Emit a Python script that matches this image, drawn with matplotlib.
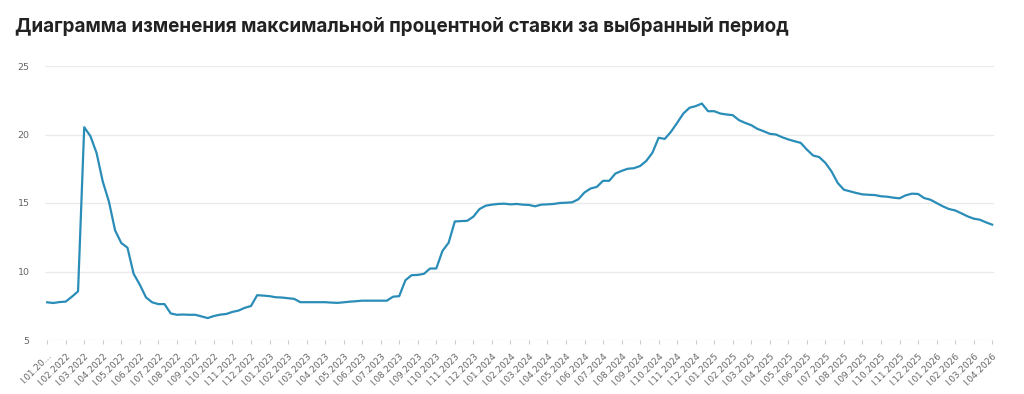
import numpy as np
import matplotlib
matplotlib.use("Agg")
import matplotlib.pyplot as plt

# ---- data: max deposit rate, one value per ten-day period (I/II/III) ----
RATES = [
    7.75, 7.70, 7.77, 7.80, 8.16, 8.55, 20.53, 19.88, 18.65, 16.57,
    15.10, 13.00, 12.08, 11.74, 9.83, 9.04, 8.11, 7.75, 7.62, 7.62,
    6.94, 6.84, 6.86, 6.84, 6.84, 6.72, 6.60, 6.75, 6.85, 6.90,
    7.05, 7.15, 7.35, 7.48, 8.27, 8.24, 8.20, 8.12, 8.10, 8.05,
    8.00, 7.76, 7.76, 7.76, 7.76, 7.76, 7.73, 7.71, 7.75, 7.80,
    7.83, 7.87, 7.87, 7.87, 7.87, 7.87, 8.16, 8.20, 9.36, 9.73,
    9.75, 9.83, 10.22, 10.22, 11.50, 12.10, 13.65, 13.68, 13.70, 14.00,
    14.56, 14.80, 14.88, 14.93, 14.95, 14.90, 14.93, 14.88, 14.86, 14.76,
    14.88, 14.90, 14.93, 15.00, 15.02, 15.05, 15.27, 15.77, 16.06, 16.18,
    16.62, 16.62, 17.15, 17.34, 17.50, 17.54, 17.70, 18.07, 18.67, 19.76,
    19.68, 20.20, 20.85, 21.53, 21.95, 22.07, 22.26, 21.70, 21.70, 21.53,
    21.46, 21.41, 21.05, 20.85, 20.68, 20.41, 20.24, 20.05, 20.00, 19.80,
    19.64, 19.51, 19.39, 18.90, 18.47, 18.35, 17.93, 17.30, 16.46, 15.97,
    15.85, 15.73, 15.63, 15.60, 15.58, 15.49, 15.46, 15.39, 15.34, 15.56,
    15.68, 15.66, 15.36, 15.24, 15.00, 14.76, 14.56, 14.46, 14.25, 14.03,
    13.86, 13.78, 13.59, 13.42,
]

# first decade of every month, Jan 2022 .. Apr 2026
YEARS = [2022, 2023, 2024, 2025, 2026]
TICK_LABELS = [f"I.{m:02d}.{y}" for y in YEARS for m in range(1, 13)
               if not (y == 2026 and m > 4)]
TICK_LABELS[0] = "I.01.20…"

Y_TICKS = [5, 10, 15, 20, 25]

TITLE = "Диаграмма изменения максимальной процентной ставки за выбранный период"

LINE_COLOR = "#2a8db8"
GRID_COLOR = "#ebebeb"
TEXT_GRAY = "#666666"

x = np.arange(len(RATES))
tick_pos = np.arange(len(TICK_LABELS)) * 3

fig = plt.figure(figsize=(10.24, 3.94), dpi=100)
ax = fig.add_axes([45 / 1024, 1 - 340 / 394, 949 / 1024, 274 / 394])

ax.plot(x, RATES, color=LINE_COLOR, lw=1.6, solid_joinstyle="round")

ax.set_xlim(-0.35, len(RATES) - 1 + 0.3)
ax.set_ylim(5, 25)
ax.set_yticks(Y_TICKS)
ax.set_yticklabels([str(v) for v in Y_TICKS], fontsize=6.8, color=TEXT_GRAY)
ax.set_xticks(tick_pos)
ax.set_xticklabels(TICK_LABELS, fontsize=6.4, color=TEXT_GRAY,
                   rotation=45, ha="right", va="top", rotation_mode="anchor")

ax.grid(axis="y", color=GRID_COLOR, lw=1)
ax.set_axisbelow(True)
for s in ax.spines.values():
    s.set_visible(False)
ax.tick_params(axis="y", length=0, pad=11)
ax.tick_params(axis="x", length=3, color="#cccccc", pad=5)

fig.text(15 / 1024, 1 - 27 / 394, TITLE, fontsize=13.6, fontweight="bold",
         family=["Inter", "DejaVu Sans"], color="#222222", va="center", ha="left")

fig.savefig("out.png", dpi=100, facecolor="white")
